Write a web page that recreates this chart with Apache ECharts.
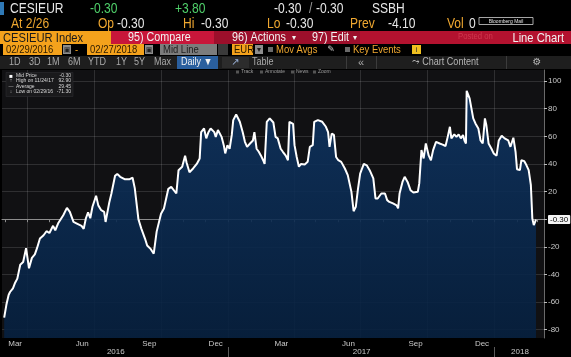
<!DOCTYPE html>
<html><head><meta charset="utf-8">
<script src="https://cdn.jsdelivr.net/npm/echarts@6/dist/echarts.min.js"></script>
<style>html,body{margin:0;padding:0;background:#000;}#c{width:571px;height:357px;}</style>
</head><body><div id="c"></div>
<script>
const dates = ['2016-02-29','2016-03-03','2016-03-06','2016-03-08','2016-03-12','2016-03-15','2016-03-18','2016-03-22','2016-03-26','2016-03-30','2016-04-01','2016-04-03','2016-04-07','2016-04-11','2016-04-14','2016-04-18','2016-04-23','2016-04-27','2016-05-01','2016-05-06','2016-05-09','2016-05-13','2016-05-20','2016-05-25','2016-05-29','2016-06-03','2016-06-07','2016-06-14','2016-06-17','2016-06-20','2016-06-23','2016-06-26','2016-06-29','2016-07-04','2016-07-07','2016-07-11','2016-07-15','2016-07-17','2016-07-19','2016-07-22','2016-07-25','2016-07-30','2016-08-02','2016-08-06','2016-08-12','2016-08-19','2016-08-23','2016-08-26','2016-08-31','2016-09-04','2016-09-09','2016-09-12','2016-09-17','2016-09-21','2016-09-25','2016-09-27','2016-10-01','2016-10-05','2016-10-11','2016-10-15','2016-10-22','2016-10-25','2016-10-30','2016-11-03','2016-11-05','2016-11-09','2016-11-14','2016-11-19','2016-11-23','2016-11-25','2016-11-29','2016-12-02','2016-12-05','2016-12-08','2016-12-13','2016-12-15','2016-12-18','2016-12-23','2016-12-26','2016-12-28','2016-12-31','2017-01-03','2017-01-06','2017-01-08','2017-01-12','2017-01-17','2017-01-21','2017-01-24','2017-01-27','2017-01-31','2017-02-04','2017-02-06','2017-02-09','2017-02-12','2017-02-15','2017-02-18','2017-02-20','2017-02-23','2017-02-27','2017-03-04','2017-03-07','2017-03-10','2017-03-14','2017-03-17','2017-03-21','2017-03-24','2017-03-26','2017-03-31','2017-04-02','2017-04-05','2017-04-08','2017-04-11','2017-04-16','2017-04-20','2017-04-23','2017-04-27','2017-04-29','2017-05-04','2017-05-10','2017-05-15','2017-05-18','2017-05-20','2017-05-23','2017-05-26','2017-05-29','2017-06-01','2017-06-05','2017-06-10','2017-06-14','2017-06-19','2017-06-22','2017-06-25','2017-06-28','2017-07-01','2017-07-06','2017-07-10','2017-07-14','2017-07-19','2017-07-22','2017-07-25','2017-07-30','2017-08-04','2017-08-07','2017-08-10','2017-08-15','2017-08-20','2017-08-22','2017-08-24','2017-08-28','2017-08-31','2017-09-04','2017-09-08','2017-09-12','2017-09-18','2017-09-20','2017-09-23','2017-09-26','2017-09-29','2017-10-03','2017-10-06','2017-10-09','2017-10-13','2017-10-18','2017-10-22','2017-10-26','2017-10-29','2017-11-01','2017-11-03','2017-11-07','2017-11-10','2017-11-13','2017-11-16','2017-11-19','2017-11-21','2017-11-23','2017-11-24','2017-11-28','2017-12-03','2017-12-06','2017-12-10','2017-12-13','2017-12-16','2017-12-19','2017-12-21','2017-12-24','2017-12-28','2017-12-31','2018-01-04','2018-01-07','2018-01-11','2018-01-15','2018-01-20','2018-01-23','2018-01-27','2018-01-30','2018-02-01','2018-02-05','2018-02-07','2018-02-11','2018-02-14','2018-02-17','2018-02-20','2018-02-22','2018-02-24','2018-02-27'];
const midPrice = [-71.3,-62,-55,-52.7,-50,-46,-43,-33,-31,-21,-21,-35.5,-28,-25.5,-21,-14,-11.6,-8.7,-10,-4.8,-8,-3,2.9,8.2,5.3,-2,-3,-4.8,-7,0.7,5,0.7,9,17,10,6.5,5.3,-2,-2,12,18.6,31.4,32.8,30.7,29,29,30,22.5,0,-6.8,-14,-19,-21.7,-25,-9,-8,4,7.7,22,23.4,18.6,35.5,38,46,41,34,36.7,40,44,63,65.7,58.5,63,65.7,63,59.6,64.5,59.6,53.6,47.6,53.6,51,61,71.7,75.8,70.5,63,56,52.4,54.8,57,63,51,48.8,46,42.7,40,70.5,73,70,59.6,58.5,51,48.8,46,42.7,70.5,69,53.6,45,38,40,39.6,41.5,52.4,53.6,70.5,71.7,70.5,66.9,63,52.4,62,61,45,42.7,41.5,36.7,31.9,19.8,5.8,9,22,33,40,39,35.5,29.5,15,15,18.6,18.6,13.8,12.5,11.4,10,7.8,18.6,27,30.7,27,21,19.3,19.8,25.9,50,44,54.8,46,42.7,50,56,54.8,54,53,59.6,66.9,58.5,61.4,59.6,61.4,58.5,61,57,54.8,92.9,87.5,73,69.3,65.7,57,54.8,73,68,54.8,51,47.6,46,57,60.4,58.5,57,52.4,59,48.8,36.2,35.5,42.7,42,39,35.5,24.6,0.5,-4.3,-0.3];

const axisRange = ['2016-02-26','2018-03-10'];
const monthTickDates = ['2016-03-01','2016-04-01','2016-05-01','2016-06-01','2016-07-01','2016-08-01','2016-09-01','2016-10-01','2016-11-01','2016-12-01','2017-01-01','2017-02-01','2017-03-01','2017-04-01','2017-05-01','2017-06-01','2017-07-01','2017-08-01','2017-09-01','2017-10-01','2017-11-01','2017-12-01','2018-01-01','2018-02-01','2018-03-01'];
const quarterGridDates = ['2016-04-01','2016-07-01','2016-10-01','2017-01-01','2017-04-01','2017-07-01','2017-10-01','2018-01-01'];
const monthLabelDates = ['2016-03-15','2016-06-15','2016-09-15','2016-12-15','2017-03-15','2017-06-15','2017-09-15','2017-12-15'];
const monthLabels = ['Mar','Jun','Sep','Dec','Mar','Jun','Sep','Dec'];
const yearLabelDates = ['2016-07-31','2017-07-03','2018-02-05'];
const yearLabels = ['2016','2017','2018'];
const yearSepDates = ['2017-01-01','2018-01-01'];
const yTicks = [-80,-60,-40,-20,0,20,40,60,80,100];
const yRange = [-86, 108];
const lastValue = -0.30;

const statNames = ['Mid Price','High on 11/24/17','Average','Low on 02/29/16'];
const statValues = ['-0.30','92.90','29.45','-71.30'];

function ts(s){const p=s.split('-').map(Number);return Date.UTC(p[0],p[1]-1,p[2]);}
function nearestLabel(v, arr, labels){let best=-1,bd=Infinity;arr.forEach((a,i)=>{const d=Math.abs(ts(a)-v);if(d<bd){bd=d;best=i;}});return bd<3*864e5?labels[best]:'';}

const FONT = "'Liberation Sans','DejaVu Sans',sans-serif";
const g = [];
function R(x,y,w,h,fill,extra){g.push(Object.assign({type:'rect',shape:{x,y,width:w,height:h},style:{fill},z:100},extra||{}));}
function T(x,y,text,fill,size,align,sx){g.push({type:'text',z:101,x,y,scaleX:(sx===undefined?0.86:sx),style:{x:0,y:0,text,fill,font:(size||12)+'px '+FONT,textAlign:align||'left',textVerticalAlign:'middle'}});}

// Row 1
R(0,2,4,13,'#2f79b6');
T(10,9,'CESIEUR','#e6e6e6',14);
T(90,9,'-0.30','#4fd06a',14);
T(175,9,'+3.80','#4fd06a',14);
T(274,9,'-0.30','#e6e6e6',14);
T(309,9,'/','#9a9a9a',14);
T(316,9,'-0.30','#e6e6e6',14);
T(372,9,'SSBH','#e6e6e6',14);
// Row 2
T(11,24,'At 2/26','#f0a830',14);
T(98,24,'Op','#f0a830',14);
T(117,24,'-0.30','#e6e6e6',14);
T(183,24,'Hi','#f0a830',14);
T(201,24,'-0.30','#e6e6e6',14);
T(267,24,'Lo','#f0a830',14);
T(286,24,'-0.30','#e6e6e6',14);
T(350,24,'Prev','#f0a830',14);
T(388,24,'-4.10','#e6e6e6',14);
T(447,24,'Vol','#f0a830',14);
T(469,24,'0','#e6e6e6',14);
R(479,17.5,54,7,'#000',{style:{fill:'#000',stroke:'#cfcfcf',lineWidth:0.8}});
T(506,21.2,'Bloomberg Mail','#e0e0e0',5,'center',1);
// Row 3
R(0,31,111,13,'#f4a21c');
R(111,31,103,13,'#c8163a');
R(214,31,146,13,'#9c0f2b');
R(360,31,211,13,'#b3122f');
T(3,38,'CESIEUR Index','#1a1a1a',13);
T(128,38,'95) Compare','#f2f2f2',12.5);
T(232,38,'96) Actions','#f2f2f2',12.5);
T(292,38,'\u25BE','#f2f2f2',8,'left',1);
T(312,38,'97) Edit','#f2f2f2',12.5);
T(353,38,'\u25BE','#f2f2f2',8,'left',1);
T(458,37,'Posted on','#d0384f',9);
T(564,38,'Line Chart','#f2f2f2',13,'right');
// Row 4
R(3,44,59,11,'#f4a21c');
T(6,49.8,'02/29/2016','#2a1a00',11);
R(63,45,8,9,'#8d8d8d'); T(67,49.8,'\u25A3','#222',7,'center',1);
T(75,49.8,'-','#f4a21c',11);
R(87,44,57,11,'#f4a21c');
T(90,49.8,'02/27/2018','#2a1a00',11);
R(145,45,8,9,'#8d8d8d'); T(149,49.8,'\u25A3','#222',7,'center',1);
R(160,44,57,11,'#7c7c7c');
T(163,49.8,'Mid Line','#1e1e1e',11);
R(218,44,10,11,'#3a3a3a');
R(232,44,21,11,'#f4a21c');
T(234,49.8,'EUR','#2a1a00',11);
R(255,45,8,9,'#8d8d8d'); T(259,49.8,'\u25BE','#222',8,'center',1);
R(268,47,5,5,'#6a6a6a');
T(276,49.8,'Mov Avgs','#f0a830',11);
T(331,49.8,'\u270E','#cfcfcf',9,'center',1);
R(345,47,5,5,'#6a6a6a');
T(353,49.8,'Key Events','#f0a830',11);
R(412,45,9,9,'#f0c020'); T(416.5,49.8,'i','#333',8,'center',1);
// Row 5
R(0,56,571,13,'#1e1e1e');
const tabs=[['1D',9],['3D',29],['1M',47],['6M',68],['YTD',88],['1Y',116],['5Y',134],['Max',154]];
tabs.forEach(t=>T(t[1],62.5,t[0],'#a9a9a9',10.5));
R(177,56,41,13,'#2a5f9e');
T(181,62.5,'Daily \u25BC','#f2f2f2',10.5);
R(222,57,27,11,'#2c2c2c');
T(235.5,62.5,'\u2197','#9fb8e0',10,'center',1);
T(252,62.5,'Table','#a9a9a9',10.5);
R(346,56,0.8,13,'#444'); R(376,56,0.8,13,'#444');
T(361,62.5,'\u00AB','#a9a9a9',11,'center',1);
T(412,62.5,'\u2933 Chart Content','#b5b5b5',10.5);
R(506,56,0.8,13,'#444');
T(537,62.5,'\u2699','#b5b5b5',10,'center',1);
// Row 6 mini toolbar
[['Track',241],['Annotate',265],['News',296],['Zoom',318]].forEach(t=>{R(t[1]-5,70.5,3,3,'#555');T(t[1],72,t[0],'#9a9a9a',5,'left',1);});
// stats box
R(6,72.5,67,24,'#1a1a1c',{style:{fill:'#1a1a1c',stroke:'#2e2e30',lineWidth:0.6}});
const rowsY=[76,81,86.5,91.5];
const icons=['\u25A0','\u2191','\u2014','\u2193'];
statNames.forEach((n,i)=>{T(11,rowsY[i],icons[i],i===0?'#fff':'#bbb',i===0?6:5,'center',1);T(16,rowsY[i],n,'#d9d9d9',5,'left',1);T(71,rowsY[i],statValues[i],'#d9d9d9',5,'right',1);});

const chart = echarts.init(document.getElementById('c'), null, {renderer:'canvas'});
const xMin = ts(axisRange[0]), xMax = ts(axisRange[1]);
const gridLineColor = 'rgba(255,255,255,0.13)';
chart.setOption({
  backgroundColor:'#000',
  animation:false,
  textStyle:{fontFamily:FONT},
  grid:{left:2,right:27,top:70,bottom:19,show:true,backgroundColor:'#111113',borderWidth:0},
  xAxis:[
    {type:'value',min:xMin,max:xMax,position:'bottom',scale:true,
     axisLine:{show:true,lineStyle:{color:'#8d8d8d',width:1}},
     axisTick:{show:true,length:3,lineStyle:{color:'#8d8d8d'},customValues:monthTickDates.map(ts)},
     axisLabel:{show:true,customValues:monthLabelDates.map(ts),formatter:v=>nearestLabel(v,monthLabelDates,monthLabels),color:'#c8c8c8',fontSize:8,margin:2,fontFamily:FONT,hideOverlap:false},
     splitLine:{show:false}},
    {type:'value',min:xMin,max:xMax,position:'bottom',scale:true,
     axisLine:{show:false},axisTick:{show:false,customValues:quarterGridDates.map(ts)},axisLabel:{show:false},
     splitLine:{show:true,lineStyle:{color:gridLineColor,width:1}}},
    {type:'value',min:xMin,max:xMax,position:'bottom',offset:9,scale:true,
     axisLine:{show:false},
     axisTick:{show:true,length:11,lineStyle:{color:'#5a5a5a'},customValues:yearSepDates.map(ts)},
     axisLabel:{show:true,customValues:yearLabelDates.map(ts),formatter:v=>nearestLabel(v,yearLabelDates,yearLabels),color:'#c8c8c8',fontSize:8,margin:1,fontFamily:FONT,hideOverlap:false},
     splitLine:{show:false}}
  ],
  yAxis:{type:'value',position:'right',min:yRange[0],max:yRange[1],
     axisLine:{show:true,lineStyle:{color:'#6a6a6a'}},
     axisTick:{show:true,length:3,lineStyle:{color:'#bdbdbd'},customValues:yTicks},
     axisLabel:{show:true,customValues:yTicks,color:'#c8c8c8',fontSize:8,margin:4,fontFamily:FONT},
     splitLine:{show:true,lineStyle:{color:gridLineColor,width:1}}},
  series:[{
    type:'line',xAxisIndex:0,data:dates.map((d,i)=>[ts(d),midPrice[i]]),
    showSymbol:false,symbol:'none',
    lineStyle:{color:'#ffffff',width:2},
    areaStyle:{origin:'start',opacity:0.9,color:new echarts.graphic.LinearGradient(0,0,0,1,[{offset:0,color:'#0f3461'},{offset:1,color:'#06203f'}])},
    markLine:{silent:true,symbol:['none','none'],animation:false,
      lineStyle:{color:'rgba(0,0,0,0)',width:1,type:'solid'},
      data:[{yAxis:lastValue}],
      label:{show:true,position:'end',distance:4,formatter:()=>lastValue.toFixed(2),backgroundColor:'#f4f4f4',color:'#000',fontSize:8,padding:[1,2,0,2],borderRadius:1,fontFamily:FONT,opacity:1}}
  }],
  graphic:g
});
</script></body></html>
